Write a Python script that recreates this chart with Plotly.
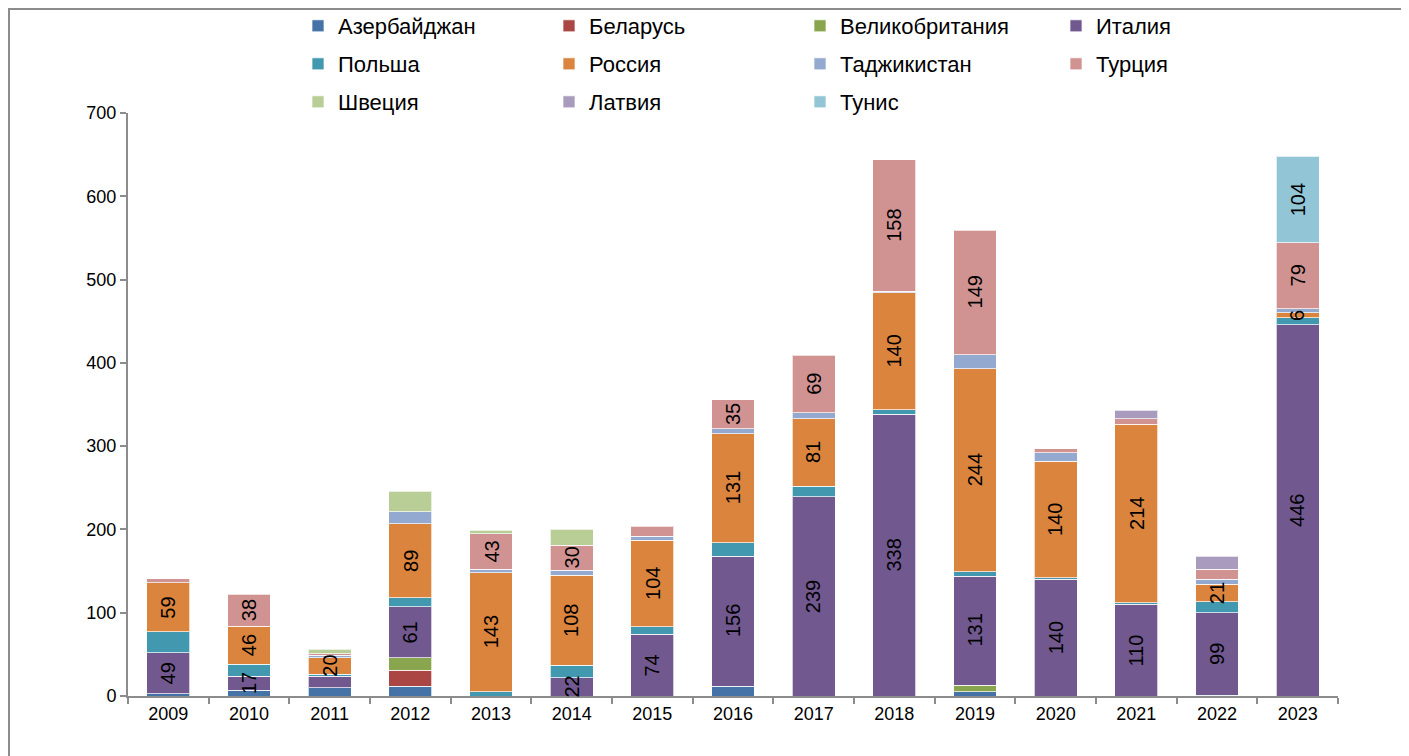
import plotly.graph_objects as go

years = ["2009", "2010", "2011", "2012", "2013", "2014", "2015", "2016",
         "2017", "2018", "2019", "2020", "2021", "2022", "2023"]

azerbaijan = [3, 7, 10, 12, 0, 0, 0, 12, 0, 0, 5, 0, 0, 1, 0]
belarus = [0, 0, 0, 19, 0, 0, 0, 0, 0, 0, 0, 0, 0, 0, 0]
uk = [0, 0, 0, 15, 0, 0, 0, 0, 0, 0, 8, 0, 0, 0, 0]
italy = [49, 17, 14, 61, 0, 22, 74, 156, 239, 338, 131, 140, 110, 99, 446]
poland = [25, 14, 2, 11, 5, 15, 9, 16, 13, 6, 5, 2, 2, 13, 8]
russia = [59, 46, 20, 89, 143, 108, 104, 131, 81, 140, 244, 140, 214, 21, 6]
tajikistan = [0, 0, 3, 14, 4, 6, 5, 6, 7, 2, 17, 10, 0, 6, 5]
turkey = [5, 38, 2, 0, 43, 30, 12, 35, 69, 158, 149, 5, 7, 12, 79]
sweden = [0, 0, 5, 25, 4, 19, 0, 0, 0, 0, 0, 0, 0, 0, 0]
latvia = [0, 0, 0, 0, 0, 0, 0, 0, 0, 0, 0, 0, 10, 16, 0]
tunisia = [0, 0, 0, 0, 0, 0, 0, 0, 0, 0, 0, 0, 0, 0, 104]

# years whose segment carries a value label
italy_labeled = ["2009", "2010", "2012", "2014", "2015", "2016", "2017", "2018",
                 "2019", "2020", "2021", "2022", "2023"]
russia_labeled = years
turkey_labeled = ["2010", "2013", "2014", "2016", "2017", "2018", "2019", "2023"]
tunisia_labeled = ["2023"]

series = [
    ("Азербайджан", azerbaijan, "#4572A7", []),
    ("Беларусь", belarus, "#AA4643", []),
    ("Великобритания", uk, "#89A54E", []),
    ("Италия", italy, "#71588F", italy_labeled),
    ("Польша", poland, "#4198AF", []),
    ("Россия", russia, "#DB843D", russia_labeled),
    ("Таджикистан", tajikistan, "#93A9CF", []),
    ("Турция", turkey, "#D19392", turkey_labeled),
    ("Швеция", sweden, "#B9CD96", []),
    ("Латвия", latvia, "#A99BBD", []),
    ("Тунис", tunisia, "#92C5D6", tunisia_labeled),
]

FONT = "Liberation Sans, Arial, sans-serif"

# the page adds an 8px body margin, so the figure is sized to fit the window
W, H = 1401, 748
L, R, T, B = 120, 71, 105, 60
pw, ph = W - L - R, H - T - B


def px_x(p):
    return (p - L) / pw


def px_y(p):
    return (H - B - p) / ph


# legend grid: 4 columns x 3 rows (pixel anchors of each entry, figure coords)
leg_cols = [290, 541, 792, 1048]
leg_rows = [18, 56, 94]

fig = go.Figure()
annotations = []
base = [0] * len(years)
layout_legends = {}
for i, (name, vals, color, labeled) in enumerate(series):
    lg = "legend" if i == 0 else f"legend{i + 1}"
    yv = [v if v else None for v in vals]
    fig.add_trace(go.Bar(
        name=name, x=years, y=yv, showlegend=True,
        marker=dict(color=color, line=dict(color="rgba(255,255,255,0.7)", width=1)),
        legend=lg,
    ))
    for j, (yr, v) in enumerate(zip(years, vals)):
        if v and yr in labeled:
            annotations.append(dict(
                x=j, y=base[j] + v / 2, xref="x", yref="y", text=str(v),
                textangle=-90, showarrow=False,
                font=dict(family=FONT, size=20, color="black"),
            ))
        base[j] += v
    r, c = divmod(i, 4)
    layout_legends[lg] = dict(
        x=px_x(leg_cols[c]), y=px_y(leg_rows[r]), xanchor="left", yanchor="middle",
        orientation="h", font=dict(family=FONT, size=22, color="black"),
        bgcolor="rgba(0,0,0,0)", borderwidth=0,
    )

fig.update_layout(
    width=W, height=H, showlegend=True,
    margin=dict(l=L, r=R, t=T, b=B, autoexpand=False),
    barmode="stack", bargap=0.47,
    plot_bgcolor="white", paper_bgcolor="white",
    font=dict(family=FONT, size=18, color="black"),
    annotations=annotations,
    xaxis=dict(type="category", showgrid=False, showline=True, linecolor="#8c8c8c",
               linewidth=2, ticks="outside", tickson="boundaries", ticklen=6,
               tickcolor="#8c8c8c", tickwidth=2, automargin=False,
               tickfont=dict(family=FONT, size=18, color="black")),
    yaxis=dict(range=[0, 700], dtick=100, showgrid=False, showline=True,
               linecolor="#8c8c8c", linewidth=2, ticks="outside", ticklen=6,
               tickcolor="#8c8c8c", tickwidth=2, zeroline=False, automargin=False,
               tickfont=dict(family=FONT, size=18, color="black")),
    shapes=[dict(type="rect", xref="paper", yref="paper",
                 x0=px_x(1), x1=px_x(1396), y0=px_y(752), y1=px_y(1),
                 line=dict(color="#8c8c8c", width=2), layer="below")],
    **layout_legends,
)

fig.write_html("out.html")
